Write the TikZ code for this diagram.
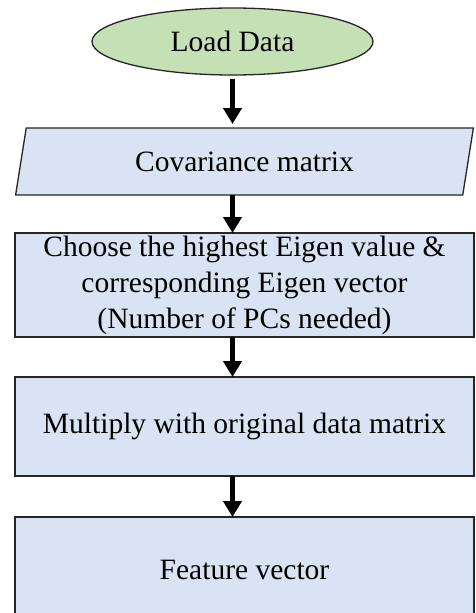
\documentclass[tikz,border=0pt]{standalone}
\usepackage{fontspec}
\setmainfont{Liberation Serif}
\usepackage{xcolor}
\usetikzlibrary{shapes.geometric, arrows.meta, positioning}
\definecolor{termgreen}{HTML}{C5E0B4}
\definecolor{boxblue}{HTML}{DAE3F3}
\tikzstyle{startstop} = [ellipse, minimum width=281pt, minimum height=67pt, inner sep=0pt,
                         text centered, draw=black!85, line width=1.3pt, fill=termgreen]
\tikzstyle{io}        = [trapezium, trapezium left angle=75, trapezium right angle=105,
                         trapezium stretches=true, minimum width=459pt, minimum height=67pt,
                         inner sep=0pt, text centered, draw=black!85, line width=1.3pt, fill=boxblue]
\tikzstyle{process}   = [rectangle, minimum width=459pt, inner sep=0pt, text centered,
                         draw=black!85, line width=1.3pt, fill=boxblue]
\tikzstyle{arrow}     = [-{Triangle[length=16pt, width=18pt]}, line width=4.5pt]

\begin{document}
\begin{tikzpicture}[x=1pt, y=-1pt, node distance=40pt, outer sep=0pt,
    every node/.style={font=\fontsize{29.5}{36}\selectfont, align=center}]
    \useasboundingbox (0,0) rectangle (475,613);
    \clip (0,0) rectangle (475,613);

    \node (load) [startstop] at (232.5,41.5) {Load Data};
    \node (cov) [io, below=53pt of load, xshift=12pt] {Covariance matrix};
    \node (eig) [process, below=38pt of cov, minimum height=104pt]
        {Choose the highest Eigen value \&\\corresponding Eigen vector\\(Number of PCs needed)};
    \node (mult) [process, below=40pt of eig, minimum height=99pt] {Multiply with original data matrix};
    \node (feat) [process, below=41pt of mult, minimum height=106pt] {Feature vector};

    \draw[arrow, shorten <=4pt, shorten >=4pt] (load.south) -- (load.south |- cov.north);
    \draw[arrow] (cov.south -| load) -- (eig.north -| load);
    \draw[arrow] (eig.south -| load) -- (mult.north -| load);
    \draw[arrow] (mult.south -| load) -- (feat.north -| load);
\end{tikzpicture}
\end{document}
